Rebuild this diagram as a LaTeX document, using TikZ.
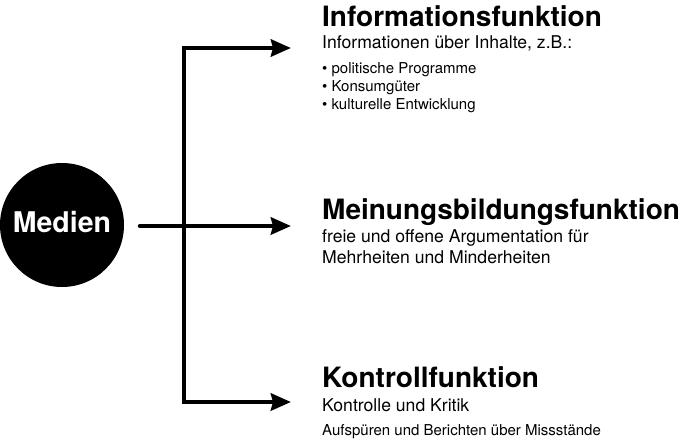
\documentclass[tikz,border=0pt]{standalone}
\usepackage{fontspec}
\setmainfont{TeX Gyre Heros}
\usetikzlibrary{arrows.meta}
\tikzset{
  tip/.tip={Stealth[length=20pt,width=17pt,inset=2pt]},
  conn/.style={line width=4.5pt, -tip},
  heading/.style={anchor=base west, inner sep=0pt, font=\bfseries\fontsize{28}{30}\selectfont},
  sub/.style={anchor=base west, inner sep=0pt, font=\fontsize{17.6}{20}\selectfont},
  small/.style={anchor=base west, inner sep=0pt, font=\fontsize{15}{17}\selectfont},
}
\begin{document}
\begin{tikzpicture}[x=1pt,y=-1pt]
\useasboundingbox (0,0) rectangle (685,439);
\node[circle, fill=black, minimum size=124pt, inner sep=0pt] (medien) at (62,225) {};
\node[text=white, font=\bfseries\fontsize{28.5}{30}\selectfont, inner sep=0pt] (medlab) at (62,222) {Medien};
% coordinates
\coordinate (start) at (140,226);
\coordinate (ctop) at (184,48);
\coordinate (cbot) at (184,402);
\coordinate (tinf) at (291,48);
\coordinate (tmei) at (291,226);
\coordinate (tkon) at (291,402);
% connectors
\draw[conn, line cap=round] (start) -- (tmei);
\draw[conn, tip-tip] (tinf) -- (ctop) -- (cbot) -- (tkon);
% texts
\node[heading] (h1) at (322,26) {Informationsfunktion};
\node[sub] (s1) at (322,48) {Informationen über Inhalte, z.B.:};
\node[small] (b1) at (322,73) {\textbullet\ politische Programme};
\node[small] (b2) at (322,91) {\textbullet\ Konsumgüter};
\node[small] (b3) at (322,109) {\textbullet\ kulturelle Entwicklung};
\node[heading] (h2) at (322,219) {Meinungsbildungsfunktion};
\node[sub] (s2) at (322,242) {freie und offene Argumentation für};
\node[sub] (s3) at (322,263) {Mehrheiten und Minderheiten};
\node[heading] (h3) at (322,387) {Kontrollfunktion};
\node[sub] (s4) at (322,411) {Kontrolle und Kritik};
\node[small] (s5) at (322,435) {Aufspüren und Berichten über Missstände};
\end{tikzpicture}
\end{document}
